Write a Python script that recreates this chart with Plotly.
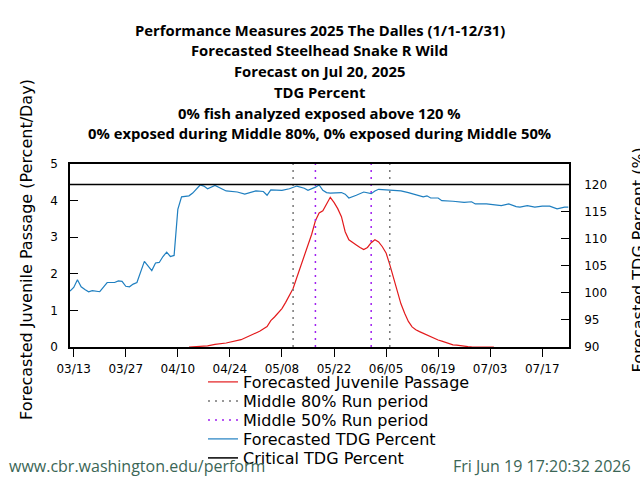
import plotly.graph_objects as go
import pandas as pd

BASE = pd.Timestamp("2025-03-12")

# Forecasted TDG Percent (right axis), day offset from 03/12
tdg_days = [0, 1, 2, 3, 4, 5, 6, 8, 10, 12, 13, 14, 15, 16, 17, 18, 20, 21, 22, 23, 24, 25, 26, 27, 28,
            29, 30, 32, 33, 35, 36, 37, 39, 42, 45, 47, 50, 52, 53, 54, 57, 59, 61, 63, 64, 66, 67, 68,
            69, 70, 73, 74, 75, 77, 79, 81, 82, 83, 86, 89, 91, 93, 94, 95, 96, 97, 99, 100, 103, 106,
            108, 109, 112, 114, 116, 118, 120, 121, 123, 125, 127, 129, 131, 133, 134]
tdg_vals = [100.3, 101.0, 102.4, 101.1, 100.6, 100.2, 100.4, 100.2, 101.9, 101.9, 102.2, 102.1, 101.2,
            101.1, 101.6, 101.9, 105.8, 104.9, 104.1, 105.5, 105.6, 106.7, 107.5, 106.7, 106.9,
            115.4, 117.7, 117.9, 118.4, 119.9, 119.7, 119.2, 119.8, 118.8, 118.6, 118.2, 118.8, 118.7,
            118.0, 119.0, 118.9, 119.2, 119.7, 119.3, 118.9, 119.5, 119.9, 118.9, 118.5, 118.4, 118.5,
            118.2, 117.5, 118.0, 118.6, 118.3, 118.8, 119.1, 119.0, 118.8, 118.5, 118.1, 118.0, 117.7,
            117.9, 117.5, 117.5, 117.0, 116.9, 116.7, 116.8, 116.4, 116.4, 116.3, 116.1, 116.4, 115.9,
            115.8, 116.1, 115.8, 116.0, 116.0, 115.5, 115.8, 115.8]

# Forecasted Juvenile Passage (left axis)
pas_days = [32, 37, 39, 42, 46, 48, 51, 53, 54, 55, 56, 57, 58, 59, 60, 61, 62, 63, 64, 65,
            66, 67, 68, 69, 70, 71, 72, 73, 74, 75, 76, 77, 78, 79, 80, 81, 82, 83, 84, 85, 86, 87, 88,
            89, 90, 91, 92, 93, 94, 95, 96, 97, 98, 99, 100, 101, 102, 103, 104, 105, 106, 107, 108,
            110, 114]
pas_vals = [0, 0.03, 0.07, 0.11, 0.2, 0.29, 0.43, 0.56, 0.72, 0.82, 0.95, 1.05, 1.22, 1.4, 1.6,
            1.9, 2.2, 2.45, 2.75, 3.08, 3.45, 3.66, 3.72, 3.9, 4.09, 3.95, 3.78, 3.56, 3.15, 2.93, 2.85,
            2.79, 2.72, 2.66, 2.72, 2.85, 2.93, 2.87, 2.74, 2.57, 2.25, 1.9, 1.55, 1.18, 0.92, 0.70,
            0.55, 0.47, 0.42, 0.37, 0.34, 0.29, 0.24, 0.19, 0.16, 0.12, 0.09, 0.06, 0.05, 0.03, 0.02,
            0.01, 0.005, 0, 0]

mid80_dates = ["2025-05-11", "2025-06-06"]
mid50_dates = ["2025-05-17", "2025-06-01"]
critical_tdg = 120

title_lines = [
    "Performance Measures 2025 The Dalles (1/1-12/31)",
    "Forecasted Steelhead Snake R Wild",
    "Forecast on Jul 20, 2025",
    "TDG Percent",
    "0% fish analyzed exposed above 120 %",
    "0% exposed during Middle 80%, 0% exposed during Middle 50%",
]

x_start = BASE
x_end = BASE + pd.Timedelta(hours=134.2 * 24)

tdg_x = [BASE + pd.Timedelta(days=d) for d in tdg_days]
pas_x = [BASE + pd.Timedelta(days=d) for d in pas_days]


def vline_xy(dates, top):
    xs, ys = [], []
    for d in dates:
        xs += [d, d, None]
        ys += [0, top, None]
    return xs, ys


fig = go.Figure()
fig.add_trace(go.Scatter(x=pas_x, y=pas_vals, mode="lines", name="Forecasted Juvenile Passage",
                         line=dict(color="#e31a1c", width=1.2), legend="legend"))
x80, y80 = vline_xy(mid80_dates, 5)
fig.add_trace(go.Scatter(x=x80, y=y80, mode="lines", name="Middle 80% Run period",
                         line=dict(color="#777777", width=1.5, dash="2px,5px"), legend="legend2"))
x50, y50 = vline_xy(mid50_dates, 5)
fig.add_trace(go.Scatter(x=x50, y=y50, mode="lines", name="Middle 50% Run period",
                         line=dict(color="#a020f0", width=1.5, dash="2px,5px"), legend="legend3"))
fig.add_trace(go.Scatter(x=tdg_x, y=tdg_vals, mode="lines", name="Forecasted TDG Percent",
                         line=dict(color="#1f7fc0", width=1.2), yaxis="y2", legend="legend4"))
fig.add_trace(go.Scatter(x=[x_start, x_end], y=[critical_tdg, critical_tdg], mode="lines",
                         name="Critical TDG Percent", line=dict(color="black", width=1.5),
                         yaxis="y2", legend="legend5"))

PL, PR, PT, PB = 70, 569, 164, 347
PW, PH = PR - PL, PB - PT


def py(y):
    return (PB - y) / PH


def px(x):
    return (x - PL) / PW


annotations = []
for i, (t, yy) in enumerate(zip(title_lines, [30, 50, 71, 92, 113, 133])):
    annotations.append(dict(text="<b>%s</b>" % t, x=0.5, y=py(yy), xref="paper", yref="paper",
                            xanchor="center", yanchor="middle", showarrow=False,
                            font=dict(family="Open Sans", size=14.8, color="black")))
annotations.append(dict(text="Forecasted Juvenile Passage (Percent/Day)", x=px(26), y=py(250),
                        xref="paper", yref="paper", textangle=-90, showarrow=False,
                        xanchor="center", yanchor="middle",
                        font=dict(family="DejaVu Sans", size=16, color="black")))
annotations.append(dict(text="Forecasted TDG Percent (%)", x=px(637.5), y=py(260),
                        xref="paper", yref="paper", textangle=-90, showarrow=False,
                        xanchor="center", yanchor="middle",
                        font=dict(family="DejaVu Sans", size=16, color="black")))
annotations.append(dict(text="www.cbr.washington.edu/perform", x=px(7), y=py(466),
                        xref="paper", yref="paper", showarrow=False, xanchor="left", yanchor="middle",
                        font=dict(family="Open Sans", size=16, color="#3b6656")))
annotations.append(dict(text="Fri Jun 19 17:20:32 2026", x=px(633), y=py(466),
                        xref="paper", yref="paper", showarrow=False, xanchor="right", yanchor="middle",
                        font=dict(family="Open Sans", size=16, color="#3b6656")))

legend_centers = [382, 401, 420, 439, 458]


def legend_box(yc):
    return dict(xref="container", yref="container", x=203 / 640, y=1 - yc / 480,
                xanchor="left", yanchor="middle", bgcolor="rgba(0,0,0,0)",
                font=dict(family="DejaVu Sans", size=16, color="black"),
                itemwidth=30, tracegroupgap=0)


tickfont = dict(family="DejaVu Sans", size=12, color="black")
fig.update_layout(
    width=640, height=480,
    margin=dict(l=PL, r=640 - PR, t=PT, b=480 - PB, pad=0, autoexpand=False),
    paper_bgcolor="white", plot_bgcolor="white",
    showlegend=True,
    legend=legend_box(legend_centers[0]),
    legend2=legend_box(legend_centers[1]),
    legend3=legend_box(legend_centers[2]),
    legend4=legend_box(legend_centers[3]),
    legend5=legend_box(legend_centers[4]),
    xaxis=dict(type="date", range=[x_start, x_end], tick0="2025-03-13", dtick=14 * 86400000,
               tickformat="%m/%d", ticks="outside", ticklen=8, tickcolor="black", tickangle=0,
               showline=True, linecolor="black", linewidth=1.5, mirror=True, showgrid=False,
               zeroline=False, tickfont=tickfont, ticklabelstandoff=2, automargin=False),
    yaxis=dict(range=[0, 5], dtick=1, ticks="inside", ticklen=8, tickcolor="black",
               showline=True, linecolor="black", linewidth=1.5, showgrid=False, zeroline=False,
               tickfont=tickfont, ticklabelstandoff=8, automargin=False),
    yaxis2=dict(range=[90, 123.77], tickvals=[90, 95, 100, 105, 110, 115, 120], overlaying="y",
                side="right", ticks="inside", ticklen=8, tickcolor="black", showline=True,
                linecolor="black", linewidth=1.5, showgrid=False, zeroline=False,
                tickfont=tickfont, ticklabelstandoff=11, automargin=False),
    annotations=annotations,
)

fig.write_html("out.html")
